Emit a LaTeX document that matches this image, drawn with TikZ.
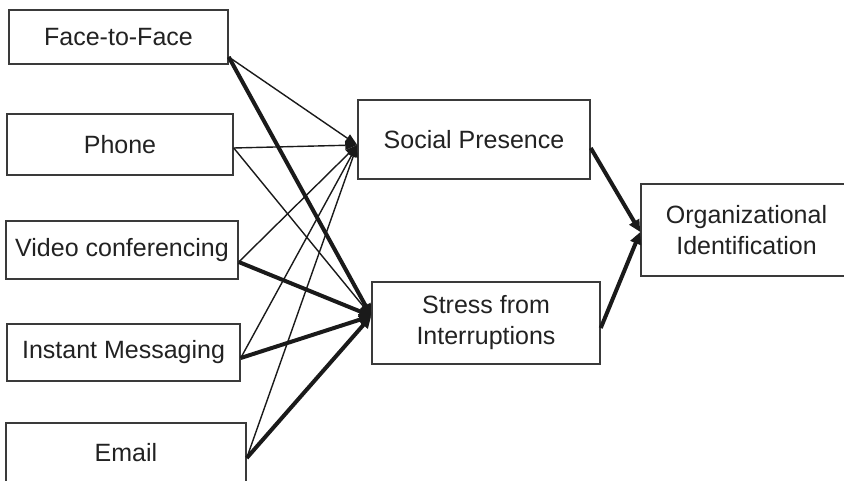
\documentclass[tikz,border=0pt]{standalone}
\usepackage{fontspec}
\setmainfont{Liberation Sans}
\usetikzlibrary{arrows.meta,calc}
\definecolor{boxgray}{HTML}{3A3A3A}
\definecolor{ln}{HTML}{1A1A1A}
\definecolor{txt}{HTML}{222222}
\begin{document}
\begin{tikzpicture}[x=1pt,y=-1pt,
  box/.style={draw=boxgray, line width=1.5pt, inner sep=0pt, align=center,
    font=\fontsize{25}{31}\selectfont, text=txt},
  thinarrow/.style={line width=1.4pt, draw=ln, -{Triangle[length=12pt,width=9pt]}},
  thickarrow/.style={line width=4pt, draw=ln, -{Triangle[length=12pt,width=11pt]}}]
\useasboundingbox (0,0) rectangle (844,481);
\clip (0,0) rectangle (844,481);
\fill[white] (0,0) rectangle (844,481);
% left column
\node[box, minimum width=219pt, minimum height=54pt] (ftf) at (118.5,37) {Face-to-Face};
\node[box, minimum width=226pt, minimum height=61pt] (phone) at (120,144.5) {Phone};
\node[box, minimum width=232pt, minimum height=58pt] (video) at (122,250) {Video conferencing};
\node[box, minimum width=233pt, minimum height=57pt] (im) at (123.5,352.5) {Instant Messaging};
\node[box, minimum width=240pt, minimum height=60pt] (email) at (126,453) {Email};
% middle
\node[box, minimum width=232pt, minimum height=79pt] (sp) at (474,139.5) {Social Presence};
\node[box, minimum width=228pt, minimum height=82pt] (st) at (486,323) {Stress from\\Interruptions};
% right
\node[box, minimum width=211pt, minimum height=92pt] (org) at (746.5,230) {Organizational\\Identification};
% thin connectors to Social Presence
\draw[thinarrow] ($(ftf.east)+(0,20)$) -- ($(sp.west)+(0,5.5)$);
\draw[thinarrow] ($(phone.east)+(0,3.5)$) -- ($(sp.west)+(0,5.5)$);
\draw[thinarrow] ($(video.east)+(0,12)$) -- ($(sp.west)+(0,5.5)$);
\draw[thinarrow] ($(im.east)+(0,5.5)$) -- ($(sp.west)+(0,5.5)$);
\draw[thinarrow] ($(email.east)+(0,5)$) -- ($(sp.west)+(0,5.5)$);
% connectors to Stress
\draw[thickarrow] ($(ftf.east)+(0,20)$) -- ($(st.west)+(0,-7)$);
\draw[thinarrow] ($(phone.east)+(0,3.5)$) -- ($(st.west)+(0,-7)$);
\draw[thickarrow] ($(video.east)+(0,12)$) -- ($(st.west)+(0,-7)$);
\draw[thickarrow] ($(im.east)+(0,5.5)$) -- ($(st.west)+(0,-7)$);
\draw[thickarrow] ($(email.east)+(0,5)$) -- ($(st.west)+(0,-7)$);
% to Organizational Identification
\draw[thickarrow] ($(sp.east)+(0,8.5)$) -- ($(org.west)+(0,2)$);
\draw[thickarrow] ($(st.east)+(0,5)$) -- ($(org.west)+(0,2)$);
\end{tikzpicture}
\end{document}
